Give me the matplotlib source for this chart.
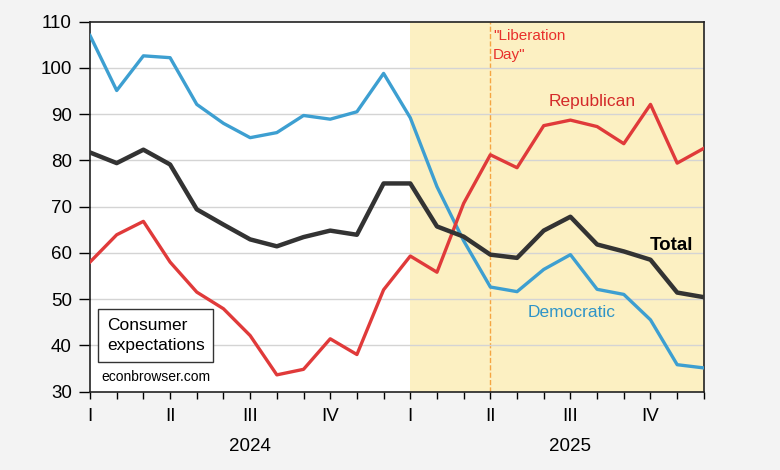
import matplotlib
matplotlib.use("Agg")
import matplotlib.pyplot as plt
from matplotlib.ticker import FixedLocator, MultipleLocator

plt.rcParams['font.family'] = ['Liberation Sans', 'DejaVu Sans']

months = list(range(24))  # Jan 2024 .. Dec 2025
total = [81.7, 79.4, 82.3, 79.1, 69.4, 66.1, 62.9, 61.4, 63.4, 64.8, 63.9, 75.0,
         75.0, 65.7, 63.5, 59.6, 58.9, 64.8, 67.8, 61.8, 60.3, 58.5, 51.4, 50.4]
democratic = [107.0, 95.1, 102.6, 102.2, 92.1, 88.0, 84.9, 86.0, 89.7, 88.9, 90.5, 98.8,
              89.2, 74.3, 62.6, 52.6, 51.6, 56.4, 59.6, 52.1, 51.0, 45.5, 35.8, 35.1]
republican = [58.0, 63.9, 66.8, 58.0, 51.5, 47.9, 42.1, 33.6, 34.8, 41.4, 38.0, 52.0,
              59.3, 55.8, 70.7, 81.2, 78.4, 87.5, 88.7, 87.3, 83.6, 92.1, 79.4, 82.6]
quarter_labels = ['I', 'II', 'III', 'IV', 'I', 'II', 'III', 'IV']
years = ['2024', '2025']

fig = plt.figure(figsize=(7.8, 4.7), dpi=100, facecolor='#f3f3f3')
ax = fig.add_axes([0.1154, 0.167, 0.787, 0.787])
ax.set_facecolor('white')

ax.axvspan(12, 23, color='#fcf0c2', zorder=0, lw=0)
ax.axvline(15, color='#f5a542', ls='--', lw=1.0, zorder=1)

for y in range(40, 110, 10):
    ax.axhline(y, color='#d4d4d4', lw=1.0, zorder=1)

ax.plot(months, democratic, color='#3d9fd1', lw=2.4, zorder=3)
ax.plot(months, republican, color='#e03a3a', lw=2.4, zorder=3)
ax.plot(months, total, color='#333333', lw=3.2, zorder=4)

ax.set_xlim(0, 23)
ax.set_ylim(30, 110)
ax.yaxis.set_major_locator(MultipleLocator(10))
ax.xaxis.set_major_locator(FixedLocator([0, 3, 6, 9, 12, 15, 18, 21]))
ax.xaxis.set_minor_locator(FixedLocator(months))
ax.set_xticklabels(quarter_labels)
ax.tick_params(axis='y', direction='out', length=8, width=1, labelsize=13.5, pad=5)
ax.tick_params(axis='x', which='both', direction='out', length=5, width=1,
               labelsize=13.5, pad=7)
for sp in ax.spines.values():
    sp.set_linewidth(1.2)
    sp.set_color('#222222')

for i, yr in enumerate(years):
    ax.text(6 + 12 * i, -0.149, yr, transform=ax.get_xaxis_transform(),
            ha='center', va='center', fontsize=13.5)

ax.text(15.09, 108.3, '"Liberation\nDay"', color='#e8302c', fontsize=11,
        ha='left', va='top', linespacing=1.4)
ax.text(17.17, 91.8, 'Republican', color='#d42a2a', fontsize=12.5,
        ha='left', va='baseline')
ax.text(16.39, 46.1, 'Democratic', color='#2f94c8', fontsize=12.5,
        ha='left', va='baseline')
ax.text(20.96, 60.5, 'Total', color='black', fontsize=13.5, fontweight='bold',
        ha='left', va='baseline')

ax.text(0.63, 46.0, 'Consumer\nexpectations', fontsize=12.5, ha='left', va='top',
        linespacing=1.45, zorder=6,
        bbox=dict(boxstyle='square,pad=0.5', fc='white', ec='#333333', lw=1.0))
ax.text(0.41, 33.2, 'econbrowser.com', fontsize=10, ha='left', va='center', zorder=6)

fig.savefig('out.png', dpi=100, facecolor=fig.get_facecolor())
